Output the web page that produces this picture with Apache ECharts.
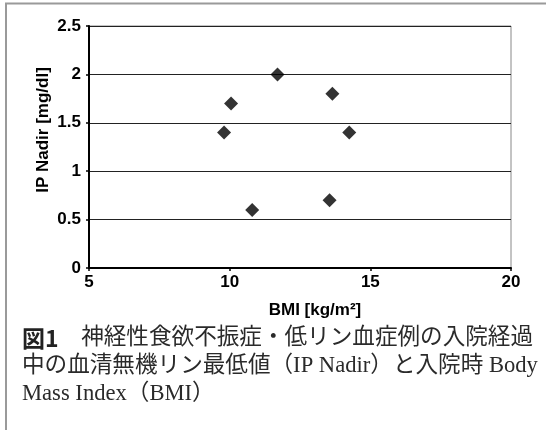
<!DOCTYPE html>
<html>
<head>
<meta charset="utf-8">
<script src="https://cdn.jsdelivr.net/npm/echarts@6/dist/echarts.min.js"></script>
<style>
html,body{margin:0;padding:0;background:#fff;}
#chart{width:546px;height:430px;}
</style>
</head>
<body>
<div id="chart"></div>
<script>
var bmi = [9.8, 10.05, 10.8, 11.7, 13.65, 13.55, 14.25];
var ipNadir = [1.4, 1.7, 0.6, 2.0, 1.8, 0.7, 1.4];
var xTicks = [5, 10, 15, 20];
var yTicks = [0, 0.5, 1, 1.5, 2, 2.5];
var xName = 'BMI [kg/m²]';
var yName = 'IP Nadir [mg/dl]';
var captionLines = [
  ['図1', '　神経性食欲不振症・低リン血症例の入院経過'],
  ['', '中の血清無機リン最低値（IP Nadir）と入院時 Body'],
  ['', 'Mass Index（BMI）']
];

var points = bmi.map(function (x, i) { return [x, ipNadir[i]]; });
var labelFont = "'Liberation Sans', Arial, sans-serif";
var serif = "'Liberation Serif', 'Noto Sans CJK JP', serif";

var graphics = [
  { type: 'polyline', shape: { points: [[6, 430], [6, 3.5], [546, 3.5]] },
    style: { stroke: '#9a9a9a', lineWidth: 2, fill: null } },
  { type: 'text', x: 43, y: 130, rotation: Math.PI / 2,
    style: { text: yName, font: 'bold 17px ' + labelFont, fill: '#000',
             textAlign: 'center', textVerticalAlign: 'middle' } },
  { type: 'text', x: 315, y: 310,
    style: { text: xName, font: 'bold 17px ' + labelFont, fill: '#000',
             textAlign: 'center', textVerticalAlign: 'middle' } }
];
var lineY = [338, 366, 394];
captionLines.forEach(function (ln, i) {
  graphics.push({
    type: 'text', x: 22, y: lineY[i],
    style: {
      text: (ln[0] ? '{b|' + ln[0] + '}' : '') + '{r|' + ln[1] + '}',
      textVerticalAlign: 'middle',
      rich: {
        b: { fontFamily: "'Noto Sans CJK JP', sans-serif", fontWeight: 'bold', fontSize: 23, fill: '#222' },
        r: { fontFamily: serif, fontSize: 22.6, fill: '#2a2a2a' }
      }
    }
  });
});

var chart = echarts.init(document.getElementById('chart'));
chart.setOption({
  animation: false,
  backgroundColor: '#fff',
  grid: { left: 89, right: 35, top: 26, bottom: 162, show: true,
          borderColor: '#888', borderWidth: 1 },
  xAxis: {
    type: 'value', min: xTicks[0], max: xTicks[xTicks.length - 1], interval: 5,
    axisLine: { show: true, onZero: false, lineStyle: { color: '#000', width: 2 } },
    axisTick: { show: true, length: 3, inside: false, lineStyle: { color: '#000', width: 1.5 } },
    axisLabel: { color: '#000', fontFamily: labelFont, fontWeight: 'bold', fontSize: 17, margin: 6 },
    splitLine: { show: false }
  },
  yAxis: {
    type: 'value', min: yTicks[0], max: yTicks[yTicks.length - 1], interval: 0.5,
    axisLine: { show: true, onZero: false, lineStyle: { color: '#000', width: 2 } },
    axisTick: { show: true, length: 3, inside: false, lineStyle: { color: '#000', width: 1.5 } },
    axisLabel: { color: '#000', fontFamily: labelFont, fontWeight: 'bold', fontSize: 17, margin: 8 },
    splitLine: { show: true, lineStyle: { color: '#222', width: 1 } }
  },
  series: [{
    type: 'scatter',
    data: points,
    symbol: 'diamond',
    symbolSize: [14, 14],
    itemStyle: { color: '#000' }
  }],
  graphic: graphics
});
</script>
</body>
</html>
